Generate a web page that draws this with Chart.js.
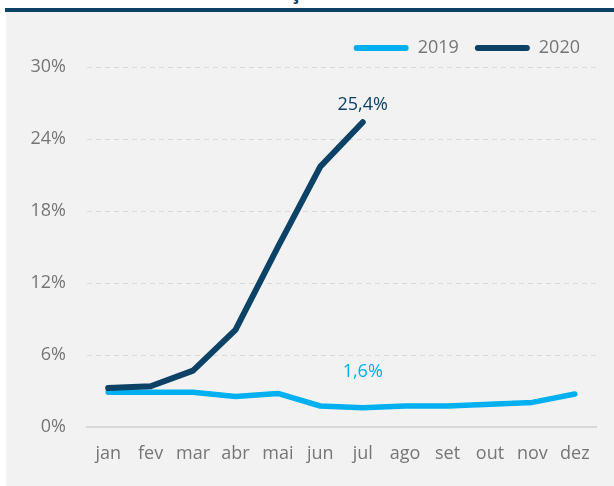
<!DOCTYPE html>
<html>
<head>
<meta charset="utf-8">
<script src="https://cdn.jsdelivr.net/npm/chart.js@4"></script>
<style>
    html, body { margin: 0; padding: 0; background: #ffffff; width: 614px; height: 486px; overflow: hidden; position: relative; }
    .topbar { position: absolute; left: 5px; top: 8px; width: 609px; height: 4px; background: #0b4266; }
    .panel { position: absolute; left: 6px; top: 12px; right: 0; bottom: 0; background: #f2f2f2; }
    .title { position: absolute; left: 290px; top: -18px; font: bold 20px "Open Sans", sans-serif; line-height: 20px; color: #0b4266; }
    canvas { position: absolute; left: 0; top: 0; }
</style>
</head>
<body>
<div class="title">ç</div>
<div class="topbar"></div>
<div class="panel"></div>
<canvas id="chart" width="614" height="486"></canvas>
<script>
/*************************************************
 * Data
 *************************************************/
const months = ["jan", "fev", "mar", "abr", "mai", "jun", "jul", "ago", "set", "out", "nov", "dez"];
const values2019 = [2.9, 2.9, 2.9, 2.55, 2.8, 1.75, 1.6, 1.75, 1.75, 1.9, 2.05, 2.75];
const values2020 = [3.25, 3.4, 4.7, 8.1, 15.0, 21.7, 25.4, null, null, null, null, null];
const yTicks = [0, 6, 12, 18, 24, 30];
const labelIndex = 6; // jul

const navy = "#0b4266";
const sky = "#00b0f0";
const tickGrey = "#767676";
const font = "'Open Sans', sans-serif";

/*************************************************
 * Value labels on jul
 *************************************************/
const valueLabels = {
    id: "valueLabels",
    afterDatasetsDraw(chart) {
        const ctx = chart.ctx;
        ctx.save();
        ctx.font = "18px " + font;
        ctx.textAlign = "center";
        ctx.textBaseline = "middle";
        chart.data.datasets.forEach((ds, i) => {
            const pt = chart.getDatasetMeta(i).data[labelIndex];
            const v = ds.data[labelIndex];
            const txt = v.toFixed(1).replace(".", ",") + "%";
            ctx.fillStyle = ds.borderColor;
            const off = ds.label === "2020" ? 17 : 36;
            ctx.fillText(txt, pt.x, pt.y - off);
        });
        ctx.restore();
    }
};

new Chart(document.getElementById("chart"), {
    type: "line",
    data: {
        labels: months,
        datasets: [
            { label: "2019", data: values2019, borderColor: sky, backgroundColor: sky, borderWidth: 5.5, order: 2 },
            { label: "2020", data: values2020, borderColor: navy, backgroundColor: navy, borderWidth: 6, order: 1 }
        ]
    },
    options: {
        responsive: false,
        animation: false,
        layout: { padding: { left: 0, right: 18, top: 23, bottom: 0 } },
        elements: {
            point: { radius: 0 },
            line: { tension: 0, borderCapStyle: "round", borderJoinStyle: "round" }
        },
        plugins: {
            tooltip: { enabled: false },
            legend: {
                align: "end",
                labels: {
                    boxWidth: 55,
                    boxHeight: 6,
                    useBorderRadius: true,
                    borderRadius: 3,
                    color: tickGrey,
                    font: { size: 18, family: font },
                    padding: 16,
                    sort: (a, b) => a.datasetIndex - b.datasetIndex,
                    generateLabels(chart) {
                        return Chart.defaults.plugins.legend.labels.generateLabels(chart).map(l => {
                            l.lineWidth = 0;
                            l.fillStyle = chart.data.datasets[l.datasetIndex].borderColor;
                            return l;
                        });
                    }
                }
            }
        },
        scales: {
            x: {
                offset: true,
                grid: { display: false, drawTicks: false },
                border: { display: true, color: "#d9d9d9", width: 2 },
                ticks: { color: tickGrey, padding: 16, font: { size: 18, family: font } },
                afterFit(scale) { scale.height = 59; }
            },
            y: {
                min: 0,
                max: 30,
                afterBuildTicks(scale) { scale.ticks = yTicks.map(v => ({ value: v })); },
                grid: { color: "#d9d9d9", lineWidth: 1, drawTicks: false },
                border: { display: false, dash: [5, 4] },
                ticks: {
                    color: tickGrey,
                    padding: 21,
                    font: { size: 18, family: font },
                    callback: v => v + "%"
                },
                afterFit(scale) { scale.width = 87; }
            }
        }
    },
    plugins: [valueLabels]
});
</script>
</body>
</html>
